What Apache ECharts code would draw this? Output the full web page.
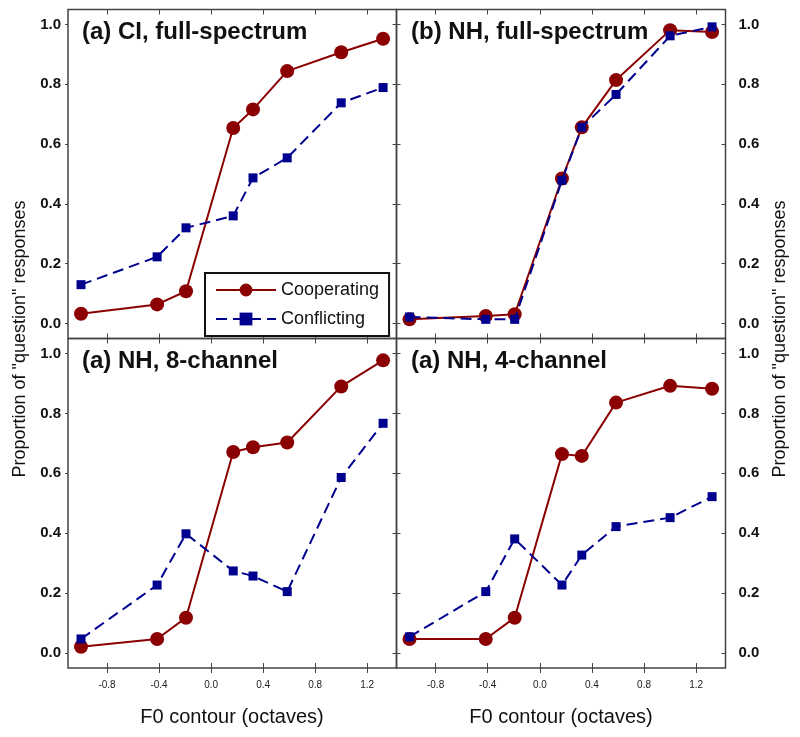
<!DOCTYPE html>
<html><head><meta charset="utf-8">
<script src="https://cdn.jsdelivr.net/npm/echarts@6/dist/echarts.min.js"></script>
<style>html,body{margin:0;padding:0;background:#fff}#c{width:800px;height:737px}</style>
</head><body><div id="c"></div>
<script>
// F0 contour positions (octaves)
const octaves = [-1.0, -0.415, -0.193, 0.170, 0.322, 0.585, 1.0, 1.322];
// Panel data: proportion of "question" responses
const ciFullCoop = [0.033, 0.064, 0.108, 0.654, 0.716, 0.844, 0.907, 0.952];
const ciFullConf = [0.130, 0.223, 0.320, 0.360, 0.487, 0.554, 0.738, 0.789];
const nhFullCoop = [0.014, 0.025, 0.031, 0.485, 0.656, 0.814, 0.981, 0.975];
const nhFullConf = [0.022, 0.014, 0.014, 0.479, 0.656, 0.766, 0.962, 0.992];
const nh8Coop = [0.021, 0.047, 0.118, 0.671, 0.687, 0.703, 0.890, 0.977];
const nh8Conf = [0.047, 0.227, 0.398, 0.274, 0.257, 0.205, 0.586, 0.767];
const nh4Coop = [0.047, 0.047, 0.118, 0.664, 0.658, 0.836, 0.892, 0.882];
const nh4Conf = [0.054, 0.205, 0.381, 0.227, 0.327, 0.422, 0.452, 0.522];
// Tick labels and texts
const xTicks = [-0.8, -0.4, 0.0, 0.4, 0.8, 1.2];
const yTicks = [0.0, 0.2, 0.4, 0.6, 0.8, 1.0];
const panelTitles = ['(a) CI, full-spectrum', '(b) NH, full-spectrum', '(a) NH, 8-channel', '(a) NH, 4-channel'];
const seriesNames = ['Cooperating', 'Conflicting'];
const xTitle = 'F0 contour (octaves)';
const yTitle = 'Proportion of "question" responses';

const panelData = [[ciFullCoop, ciFullConf], [nhFullCoop, nhFullConf], [nh8Coop, nh8Conf], [nh4Coop, nh4Conf]];

const F = "'Liberation Sans', Arial, Helvetica, sans-serif";
const AX = '#444';
const grids = [
  {left: 68, top: 9.5, width: 328.5, height: 329},
  {left: 396.5, top: 9.5, width: 329, height: 329},
  {left: 68, top: 338.5, width: 328.5, height: 329.5},
  {left: 396.5, top: 338.5, width: 329, height: 329.5}
];
grids.forEach(g => { g.show = true; g.borderColor = AX; g.borderWidth = 1.5; g.backgroundColor = 'transparent'; });

const xAxis = [], yAxis = [], series = [];
const mainX = [], mainY = [];
function baseX(gi, pos) {
  return {gridIndex: gi, type: 'value', min: -1.1, max: 1.425, position: pos,
    axisLine: {show: false, onZero: false}, splitLine: {show: false}};
}
function baseY(gi, pos) {
  return {gridIndex: gi, type: 'value', min: -0.05, max: 1.05, position: pos,
    axisLine: {show: false, onZero: false}, splitLine: {show: false}};
}
const fmt = v => v.toFixed(1);
for (let gi = 0; gi < 4; gi++) {
  const isBottom = gi >= 2, isRight = gi % 2 === 1;
  const xb = baseX(gi, 'bottom');
  xb.axisTick = {show: true, inside: true, length: 5, customValues: xTicks, lineStyle: {color: AX, width: 1}};
  xb.axisLabel = isBottom ? {show: true, customValues: xTicks, formatter: fmt, fontSize: 10, color: '#222', fontFamily: F, margin: 12} : {show: false};
  mainX[gi] = xAxis.length; xAxis.push(xb);
  const xt = baseX(gi, 'top');
  xt.axisTick = {show: true, inside: true, length: 5, customValues: xTicks, lineStyle: {color: AX, width: 1}};
  xt.axisLabel = {show: false};
  xAxis.push(xt);
  if (isBottom) {
    const xo = baseX(gi, 'bottom');
    xo.axisTick = {show: true, inside: false, length: 5, customValues: xTicks, lineStyle: {color: AX, width: 1}};
    xo.axisLabel = {show: false};
    xAxis.push(xo);
  }
  const yl = baseY(gi, 'left');
  const yr = baseY(gi, 'right');
  const lblStyle = {fontSize: 15, fontWeight: 'bold', color: '#111', fontFamily: F, customValues: yTicks, formatter: fmt};
  if (!isRight) {
    yl.axisTick = {show: true, inside: false, length: 3, customValues: yTicks, lineStyle: {color: AX}};
    yl.axisLabel = Object.assign({show: true, margin: 7}, lblStyle);
    yr.axisTick = {show: true, inside: true, length: 4, customValues: yTicks, lineStyle: {color: AX}};
    yr.axisLabel = {show: false};
  } else {
    yl.axisTick = {show: true, inside: true, length: 4, customValues: yTicks, lineStyle: {color: AX}};
    yl.axisLabel = {show: false};
    yr.axisTick = {show: true, inside: true, length: 4, customValues: yTicks, lineStyle: {color: AX}};
    yr.axisLabel = Object.assign({show: true, margin: 13}, lblStyle);
  }
  mainY[gi] = yAxis.length; yAxis.push(yl); yAxis.push(yr);

  const [coop, conf] = panelData[gi];
  series.push({
    name: seriesNames[0], type: 'line', xAxisIndex: mainX[gi], yAxisIndex: mainY[gi],
    data: octaves.map((x, i) => [x, coop[i]]),
    symbol: 'circle', symbolSize: 14, showAllSymbol: true,
    lineStyle: {color: '#8b0000', width: 2},
    itemStyle: {color: '#8b0000'},
    z: 3, animation: false
  });
  series.push({
    name: seriesNames[1], type: 'line', xAxisIndex: mainX[gi], yAxisIndex: mainY[gi],
    data: octaves.map((x, i) => [x, conf[i]]),
    symbol: 'rect', symbolSize: 9, showAllSymbol: true,
    lineStyle: {color: '#00008f', width: 2, type: [11, 6]},
    itemStyle: {color: '#00008f'},
    z: 4, animation: false
  });
}

const titlePos = [[82, 33.5], [411, 33.5], [82, 362.5], [411, 362.5]];
const graphic = [];
panelTitles.forEach((t, i) => {
  graphic.push({type: 'text', left: titlePos[i][0], top: titlePos[i][1] - 13, z: 10,
    style: {text: t, font: "bold 24px " + F, fill: '#111'}});
});
graphic.push({type: 'text', x: 232, y: 717, z: 10,
  style: {text: xTitle, font: "20px " + F, fill: '#111', align: 'center', verticalAlign: 'middle'}});
graphic.push({type: 'text', x: 561, y: 717, z: 10,
  style: {text: xTitle, font: "20px " + F, fill: '#111', align: 'center', verticalAlign: 'middle'}});
graphic.push({type: 'text', x: 20, y: 339, rotation: Math.PI / 2, z: 10,
  style: {text: yTitle, font: "18px " + F, fill: '#111', align: 'center', verticalAlign: 'middle'}});
graphic.push({type: 'text', x: 780, y: 339, rotation: Math.PI / 2, z: 10,
  style: {text: yTitle, font: "18px " + F, fill: '#111', align: 'center', verticalAlign: 'middle'}});

const chart = echarts.init(document.getElementById('c'), null, {renderer: 'canvas'});
chart.setOption({
  backgroundColor: '#fff',
  animation: false,
  grid: grids,
  xAxis: xAxis,
  yAxis: yAxis,
  legend: {
    data: seriesNames, orient: 'vertical', left: 205, top: 273,
    itemWidth: 60, itemHeight: 16, itemGap: 11, itemTextGap: 6,
    padding: [8, 10], borderColor: '#111', borderWidth: 2, backgroundColor: '#fff',
    textStyle: {fontSize: 18, color: '#111', fontFamily: F}
  },
  series: series,
  graphic: graphic
});
</script></body></html>
